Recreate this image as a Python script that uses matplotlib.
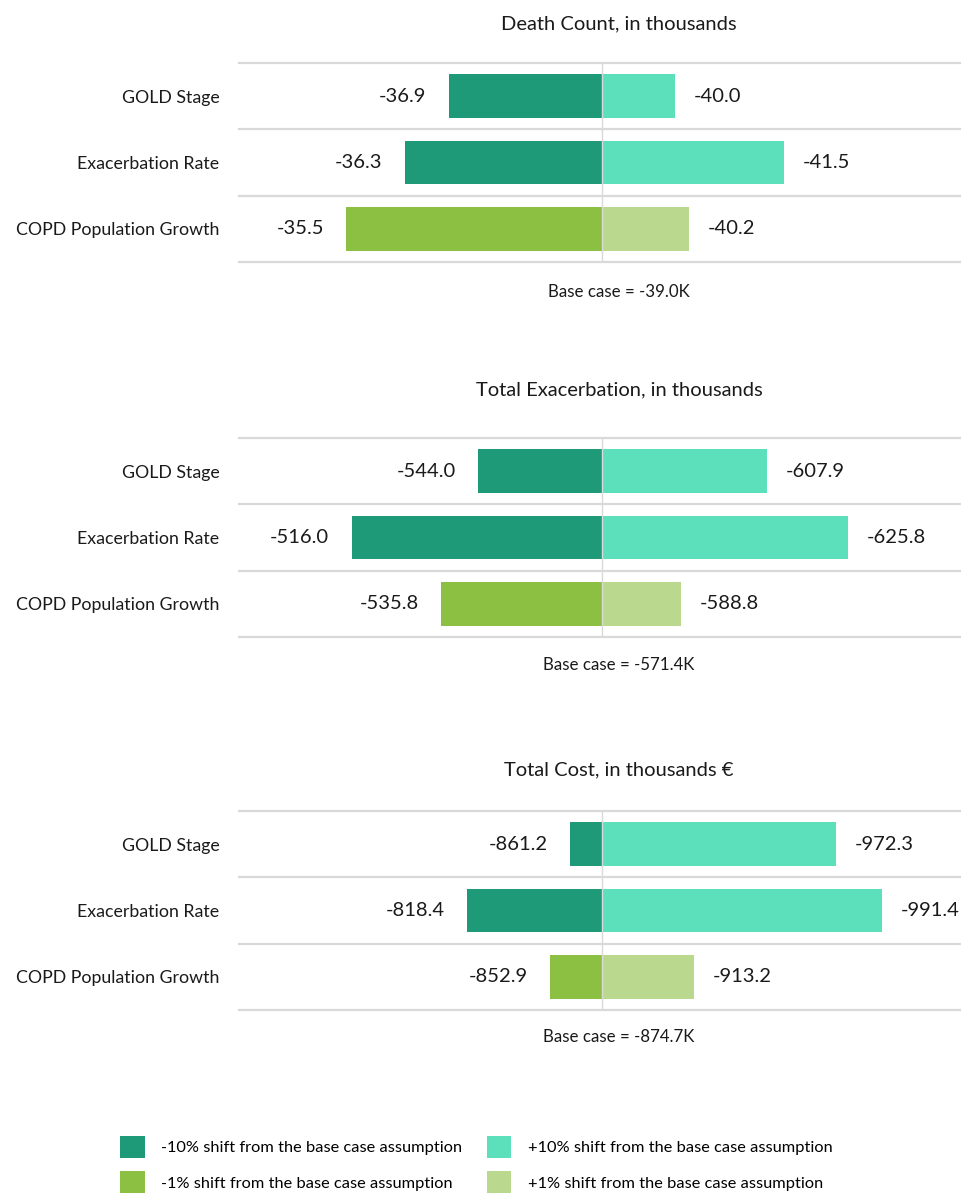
import matplotlib
matplotlib.use("Agg")
import matplotlib.pyplot as plt
from matplotlib.patches import Patch

plt.rcParams['font.family'] = ['Lato', 'DejaVu Sans']

categories = ["GOLD Stage", "Exacerbation Rate", "COPD Population Growth"]

titles = ["Death Count, in thousands",
          "Total Exacerbation, in thousands",
          "Total Cost, in thousands \u20ac"]
base_cases = [-39.0, -571.4, -874.7]
base_labels = ["Base case = -39.0K", "Base case = -571.4K", "Base case = -874.7K"]

low_values = [[-36.9, -36.3, -35.5],
              [-544.0, -516.0, -535.8],
              [-861.2, -818.4, -852.9]]
high_values = [[-40.0, -41.5, -40.2],
               [-607.9, -625.8, -588.8],
               [-972.3, -991.4, -913.2]]
# visible x-extent either side of the base case, per panel
spans = [(4.97, 4.92), (80.3, 79.4), (151.3, 149.6)]

c_low10 = "#1e9a78"
c_high10 = "#5ce0bb"
c_low1 = "#8bc042"
c_high1 = "#bad98f"
low_colors = [c_low10, c_low10, c_low1]
high_colors = [c_high10, c_high10, c_high1]

W, H = 961, 1194
fig = plt.figure(figsize=(W / 100, H / 100), dpi=100)

panel_tops = [63, 438, 811]
panel_h = 199
title_y = [24, 390, 770]
base_y = [292, 665, 1037]

for i in range(3):
    top = panel_tops[i]
    ax = fig.add_axes([239 / W, 1 - (top + panel_h) / H, 722 / W, panel_h / H])
    base = base_cases[i]
    ys = list(range(len(categories)))
    lows = low_values[i]
    highs = high_values[i]
    ax.barh(ys, [v - base for v in lows], left=base, height=0.66,
            color=low_colors, edgecolor='none', zorder=2)
    ax.barh(ys, [v - base for v in highs], left=base, height=0.66,
            color=high_colors, edgecolor='none', zorder=2)
    l, r = spans[i]
    ax.set_xlim(base + l, base - r)
    ax.set_ylim(2.5, -0.5)
    for yb in [-0.5, 0.5, 1.5, 2.5]:
        ax.axhline(yb, color="#d9d9d9", lw=1.6, zorder=1, clip_on=False)
    ax.axvline(base, color="#d9d9d9", lw=1.0, zorder=3)
    for sp in ax.spines.values():
        sp.set_visible(False)
    ax.set_xticks([])
    ax.set_yticks(ys)
    ax.set_yticklabels(categories, fontsize=12.8, color="#1a1a1a")
    ax.tick_params(axis='y', length=0, pad=14)
    for y, v in zip(ys, lows):
        ax.annotate(f"{v:.1f}", (v, y), xytext=(-16, 0), textcoords='offset points',
                    ha='right', va='center', fontsize=14.5, color="#1a1a1a")
    for y, v in zip(ys, highs):
        ax.annotate(f"{v:.1f}", (v, y), xytext=(13.5, 0), textcoords='offset points',
                    ha='left', va='center', fontsize=14.5, color="#1a1a1a")
    fig.text(619 / W, 1 - title_y[i] / H, titles[i], ha='center', va='center',
             fontsize=14.5, color="#1a1a1a")
    fig.text(619 / W, 1 - base_y[i] / H, base_labels[i], ha='center', va='center',
             fontsize=12.2, color="#1a1a1a")

legend_labels = ["-10% shift from the base case assumption",
                 "-1% shift from the base case assumption",
                 "+10% shift from the base case assumption",
                 "+1% shift from the base case assumption"]
legend_colors = [c_low10, c_low1, c_high10, c_high1]
handles = [Patch(facecolor=c, edgecolor='none', label=t)
           for c, t in zip(legend_colors, legend_labels)]
fig.legend(handles=handles, ncol=2, loc='upper left',
           bbox_to_anchor=(120 / W, 1 - 1136 / H), frameon=False,
           borderpad=0, borderaxespad=0,
           fontsize=11.8, handlelength=1.5, handleheight=1.7,
           handletextpad=1.0, columnspacing=1.5, labelspacing=0.8)

fig.savefig("out.png", dpi=100, facecolor='white')
